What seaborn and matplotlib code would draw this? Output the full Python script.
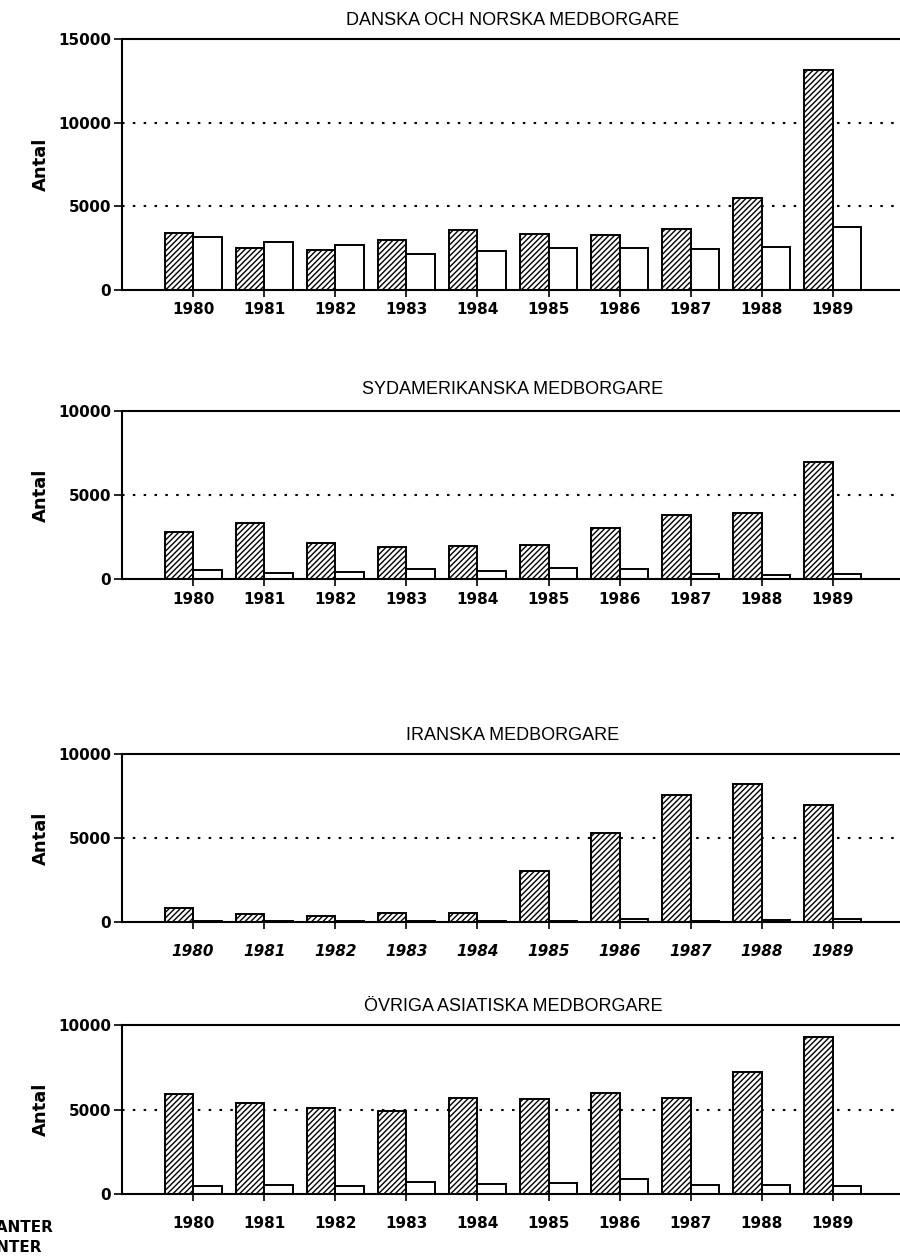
import matplotlib
matplotlib.use("Agg")
import matplotlib.pyplot as plt
import seaborn as sns
import pandas as pd

years = ["1980", "1981", "1982", "1983", "1984", "1985", "1986", "1987", "1988", "1989"]
series_names = ["IMMIGRANTER", "EMIGRANTER"]

titles = [
    "DANSKA OCH NORSKA MEDBORGARE",
    "SYDAMERIKANSKA MEDBORGARE",
    "IRANSKA MEDBORGARE",
    "ÖVRIGA ASIATISKA MEDBORGARE",
]

dan_immig = [3400, 2530, 2410, 2990, 3560, 3330, 3290, 3670, 5520, 13170]
dan_emig = [3150, 2890, 2670, 2130, 2310, 2490, 2530, 2470, 2550, 3790]

syd_immig = [2780, 3350, 2120, 1920, 1960, 2020, 3010, 3790, 3930, 6940]
syd_emig = [520, 380, 440, 610, 500, 630, 610, 300, 220, 280]

ira_immig = [855, 475, 380, 517, 535, 3010, 5270, 7530, 8200, 6970]
ira_emig = [80, 60, 40, 60, 50, 50, 200, 60, 100, 200]

asi_immig = [5920, 5390, 5080, 4940, 5700, 5630, 5980, 5690, 7220, 9290]
asi_emig = [450, 530, 450, 690, 590, 630, 900, 550, 510, 470]

ymax = [15000, 10000, 10000, 10000]
yticks = [[0, 5000, 10000, 15000], [0, 5000, 10000], [0, 5000, 10000], [0, 5000, 10000]]

panels = [
    (dan_immig, dan_emig),
    (syd_immig, syd_emig),
    (ira_immig, ira_emig),
    (asi_immig, asi_emig),
]

sns.set_theme(style="white")
plt.rcParams["font.family"] = ["DejaVu Sans"]
plt.rcParams["text.color"] = "black"
plt.rcParams["axes.labelcolor"] = "black"
plt.rcParams["xtick.color"] = "black"
plt.rcParams["ytick.color"] = "black"
plt.rcParams["hatch.linewidth"] = 1.0
plt.rcParams["hatch.color"] = "black"

W, H = 900, 1259
fig = plt.figure(figsize=(W / 100, H / 100), dpi=100)

# pixel boxes (top, bottom)
boxes = [(39, 290), (411, 579), (754, 922), (1025, 1194)]
left_px, right_px = 122, 904
label_pads = [4, 4, 11, 11]
title_pads = [10, 12, 10, 10]

for i, ((imm, emi), (tp, bp)) in enumerate(zip(panels, boxes)):
    ax = fig.add_axes([left_px / W, 1 - bp / H, (right_px - left_px) / W, (bp - tp) / H])
    df = pd.DataFrame({
        "year": years * 2,
        "value": list(imm) + list(emi),
        "typ": [series_names[0]] * len(years) + [series_names[1]] * len(years),
    })
    sns.barplot(data=df, x="year", y="value", hue="typ", hue_order=series_names,
                palette=["white", "white"], edgecolor="black", linewidth=1.4,
                width=0.8, legend=False, ax=ax, saturation=1)
    n = len(years)
    for k, p in enumerate(ax.patches):
        if k < n:
            p.set_hatch("//////")
    ax.set_xlim(-1, 10)
    ax.set_ylim(0, ymax[i])
    ax.set_yticks(yticks[i])
    ax.set_yticklabels([str(t) for t in yticks[i]], fontsize=11, fontweight="bold")
    ax.set_xticks(range(n))
    ax.set_xticklabels(years, fontsize=11, fontweight="bold",
                       fontstyle="italic" if i == 2 else "normal")
    ax.set_xlabel("")
    ax.set_ylabel("Antal", fontsize=13, labelpad=6, fontweight="bold")
    ax.set_title(titles[i], fontsize=13, pad=title_pads[i], x=0.5,
                 family=["Liberation Sans", "DejaVu Sans"], color="black")
    for y in yticks[i]:
        if 0 < y < ymax[i]:
            ax.axhline(y, color="black", linestyle=(0, (1.2, 4)), linewidth=1.5, zorder=0)
    for s in ["left", "bottom", "top"]:
        ax.spines[s].set_visible(True)
        ax.spines[s].set_color("black")
        ax.spines[s].set_linewidth(1.5)
    ax.spines["right"].set_visible(False)
    ax.tick_params(axis="y", direction="out", length=6, width=1.2, color="black", left=True, pad=2)
    ax.tick_params(axis="x", direction="out", length=5, width=1.2, color="black", bottom=True,
                   pad=label_pads[i])

fig.text(53 / W, 1 - 1228 / H, series_names[0], ha="right", va="center", fontsize=11, fontweight="bold")
fig.text(42 / W, 1 - 1248 / H, series_names[1], ha="right", va="center", fontsize=11, fontweight="bold")

fig.savefig("out.png", dpi=100)
